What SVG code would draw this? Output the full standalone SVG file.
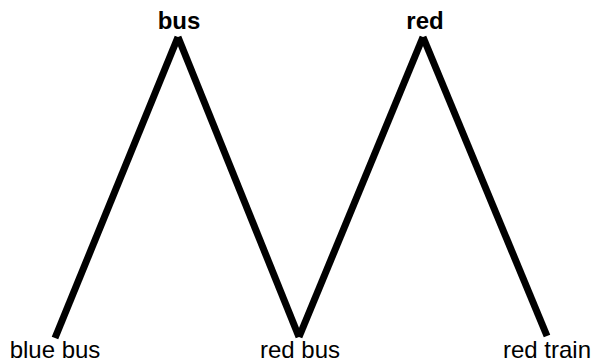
<svg xmlns="http://www.w3.org/2000/svg" width="593" height="364" viewBox="0 0 593 364">
<style>
text{font-family:"Liberation Sans",Arial,sans-serif;font-size:24px;fill:#000;text-anchor:middle}
.b{font-weight:bold}
.e{stroke:#000;stroke-width:7;fill:none}
</style>
<rect width="593" height="364" fill="#fff"/>
<g id="connectors">
<line class="e" x1="178" y1="37" x2="55" y2="338"/>
<line class="e" x1="178" y1="37" x2="299" y2="337"/>
<line class="e" x1="423" y1="37" x2="299" y2="337"/>
<line class="e" x1="423" y1="37" x2="547" y2="336"/>
</g>
<g id="n-bus"><text class="b" x="179" y="29">bus</text></g>
<g id="n-red"><text class="b" x="425" y="29">red</text></g>
<g id="n-bluebus"><text x="55" y="358">blue bus</text></g>
<g id="n-redbus"><text x="300" y="358">red bus</text></g>
<g id="n-redtrain"><text x="547" y="358">red train</text></g>
</svg>
